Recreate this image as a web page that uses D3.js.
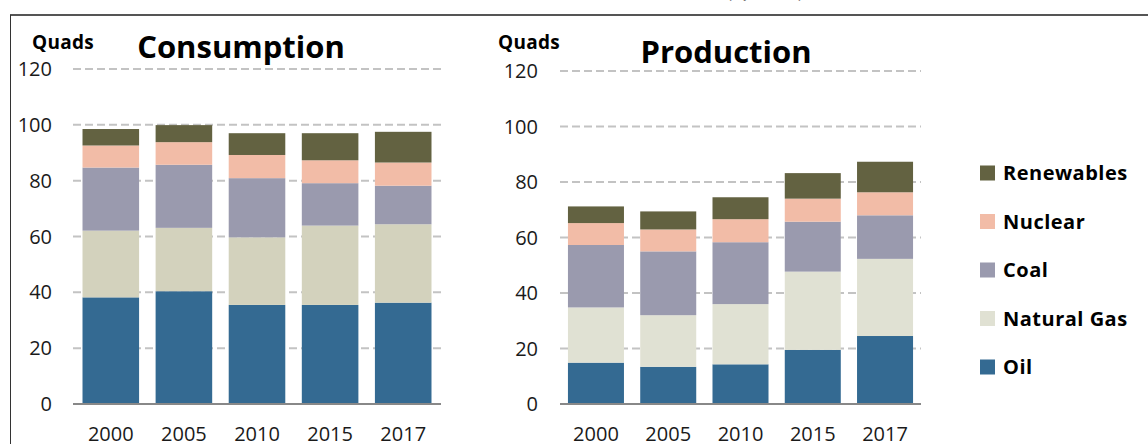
<!DOCTYPE html>
<html>
<head>
<meta charset="utf-8">
<script src="https://cdn.jsdelivr.net/npm/d3@7"></script>
<style>
  html, body { margin: 0; padding: 0; background: #fff; }
  svg { display: block; }
  text { font-family: "Open Sans", Lato, sans-serif; }
</style>
</head>
<body>
<svg id="chart" width="1148" height="444"></svg>
<script>
const years = ["2000", "2005", "2010", "2015", "2017"];
const seriesNames = ["Oil", "Natural Gas", "Coal", "Nuclear", "Renewables"];
const yTicks = [0, 20, 40, 60, 80, 100, 120];

// Consumption (quads)
const consOil = [38.2, 40.4, 35.5, 35.5, 36.3];
const consGas = [23.9, 22.7, 24.2, 28.4, 28.1];
const consCoal = [22.6, 22.6, 21.2, 15.2, 13.8];
const consNuclear = [7.9, 8.1, 8.3, 8.2, 8.3];
const consRenew = [5.9, 6.1, 7.8, 9.7, 11.0];

// Production (quads)
const prodOil = [14.9, 13.4, 14.3, 19.5, 24.5];
const prodGas = [19.9, 18.6, 21.7, 28.2, 27.8];
const prodCoal = [22.5, 23.0, 22.3, 18.0, 15.7];
const prodNuclear = [7.9, 7.9, 8.3, 8.3, 8.3];
const prodRenew = [6.0, 6.5, 7.9, 9.2, 11.0];

const colors = {
  "Oil": "#346a92",
  "Natural Gas": "#e0e1d3",
  "Coal": "#9a9aae",
  "Nuclear": "#f2bca7",
  "Renewables": "#636241"
};
const consGasColor = "#d3d2bd";

const svg = d3.select("#chart");

// frame
svg.append("line").attr("x1", 10).attr("x2", 1148).attr("y1", 15).attr("y2", 15)
  .attr("stroke", "#555").attr("stroke-width", 2);
svg.append("line").attr("x1", 10.5).attr("x2", 10.5).attr("y1", 15).attr("y2", 444)
  .attr("stroke", "#333").attr("stroke-width", 1);

// clipped top title remnant (only the bottoms of the parentheses show)
svg.append("text").attr("x", 727).attr("y", -2).attr("font-size", 17)
  .attr("textLength", 76).attr("lengthAdjust", "spacing")
  .attr("fill", "#000").text("(Quads)");

function makeRows(oil, gas, coal, nuc, ren) {
  return years.map((y, i) => ({
    year: y, "Oil": oil[i], "Natural Gas": gas[i], "Coal": coal[i], "Nuclear": nuc[i], "Renewables": ren[i]
  }));
}

function panel(opts) {
  const g = svg.append("g");
  const x = d3.scaleBand().domain(years).range(opts.xr)
    .paddingInner(opts.pIn).paddingOuter(opts.pOut);
  const y = d3.scaleLinear().domain([0, 120]).range(opts.yr);

  // gridlines
  g.append("g").selectAll("line").data(yTicks.filter(d => d > 0)).join("line")
    .attr("x1", opts.xr[0]).attr("x2", opts.xr[1])
    .attr("y1", d => y(d)).attr("y2", d => y(d))
    .attr("stroke", "#c3c3c3").attr("stroke-width", 2)
    .attr("stroke-dasharray", "8,4");

  // stacked bars
  const stack = d3.stack().keys(seriesNames)(opts.rows);
  g.append("g").selectAll("g").data(stack).join("g")
    .attr("fill", d => (d.key === "Natural Gas" && opts.gasColor) ? opts.gasColor : colors[d.key])
    .selectAll("rect").data(d => d).join("rect")
    .attr("x", d => x(d.data.year))
    .attr("width", x.bandwidth())
    .attr("y", d => y(d[1]))
    .attr("height", d => y(d[0]) - y(d[1]));

  // baseline axis
  g.append("line").attr("x1", opts.xr[0]).attr("x2", opts.xr[1])
    .attr("y1", y(0)).attr("y2", y(0))
    .attr("stroke", "#888").attr("stroke-width", 2);

  // y tick labels
  g.append("g").selectAll("text").data(yTicks).join("text")
    .attr("x", opts.yLabelX).attr("y", d => y(d))
    .attr("dy", "0.35em").attr("text-anchor", "end")
    .attr("font-size", 20).attr("fill", "#1a1a1a")
    .text(d => d);

  // x tick labels
  g.append("g").selectAll("text").data(years).join("text")
    .attr("x", d => x(d) + x.bandwidth() / 2).attr("y", 441)
    .attr("text-anchor", "middle").attr("font-size", 20).attr("fill", "#1a1a1a")
    .text(d => d);

  // units label
  g.append("text").attr("x", opts.quadsX).attr("y", 49)
    .attr("font-size", 19).attr("font-weight", "bold").attr("letter-spacing", 0.3)
    .attr("fill", "#000").text("Quads");

  // title
  g.append("text").attr("x", opts.titleX).attr("y", opts.titleY)
    .attr("text-anchor", "middle").attr("font-size", 31).attr("font-weight", "bold")
    .attr("fill", "#000").text(opts.title);
}

panel({
  rows: makeRows(consOil, consGas, consCoal, consNuclear, consRenew),
  xr: [73, 441], yr: [404, 69], pIn: 0.226, pOut: 0.13,
  yLabelX: 52, quadsX: 32, title: "Consumption", titleX: 241, titleY: 58,
  gasColor: consGasColor
});
panel({
  rows: makeRows(prodOil, prodGas, prodCoal, prodNuclear, prodRenew),
  xr: [560, 921], yr: [404, 71], pIn: 0.225, pOut: 0.11,
  yLabelX: 538, quadsX: 498, title: "Production", titleX: 726, titleY: 63
});

// legend (top to bottom: reverse order)
const legendItems = seriesNames.slice().reverse();
const legend = svg.append("g");
const ly = d3.scalePoint().domain(legendItems).range([173, 367]);
legend.selectAll("rect").data(legendItems).join("rect")
  .attr("x", 980).attr("y", d => ly(d) - 7.5).attr("width", 15).attr("height", 15)
  .attr("fill", d => colors[d]);
legend.selectAll("text").data(legendItems).join("text")
  .attr("x", 1003).attr("y", d => ly(d)).attr("dy", "0.35em")
  .attr("font-size", 20).attr("font-weight", "bold").attr("letter-spacing", 0.5)
  .attr("fill", "#000")
  .text(d => d);
</script>
</body>
</html>
